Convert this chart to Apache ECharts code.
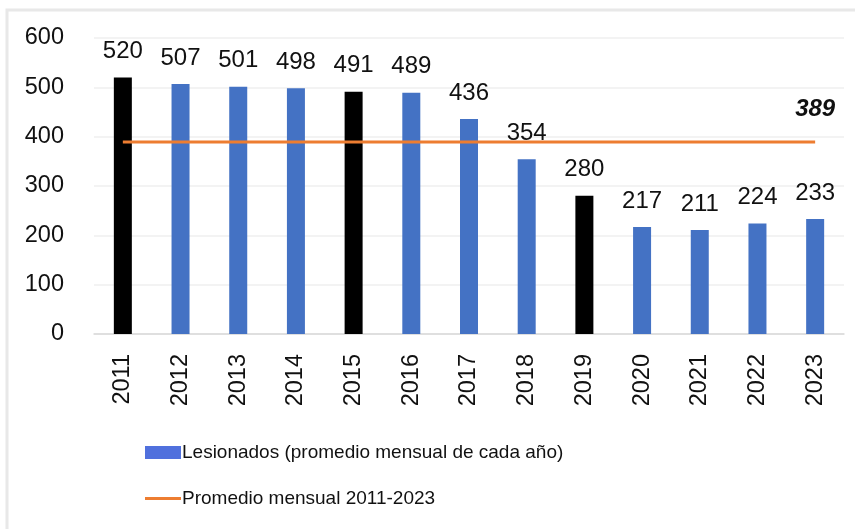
<!DOCTYPE html>
<html>
<head>
<meta charset="utf-8">
<script src="https://cdn.jsdelivr.net/npm/echarts@6/dist/echarts.min.js"></script>
<style>
html,body{margin:0;padding:0;background:#fff;}
#chart{width:855px;height:529px;}
</style>
</head>
<body>
<div id="chart"></div>
<script>
const years = ['2011','2012','2013','2014','2015','2016','2017','2018','2019','2020','2021','2022','2023'];
const lesionados = [520,507,501,498,491,489,436,354,280,217,211,224,233];
const promedio = 389;
const highlightYears = ['2011','2015','2019'];
const yTicks = [0,100,200,300,400,500,600];
const seriesNames = ['Lesionados (promedio mensual de cada año)','Promedio mensual 2011-2023'];

const FONT = 'Liberation Sans';
const chart = echarts.init(document.getElementById('chart'), null, {renderer:'canvas'});
const barData = lesionados.map((v,i)=>({
  value: v,
  itemStyle: {color: highlightYears.includes(years[i]) ? '#000000' : '#4472C4'}
}));
const lineData = years.map((y,i)=>({
  value: promedio,
  label: {show: i === years.length-1}
}));

chart.setOption({
  animation:false,
  backgroundColor:'#fff',
  textStyle:{fontFamily:FONT},
  graphic:[{
    type:'rect', silent:true,
    shape:{x:7,y:10,width:900,height:600},
    style:{fill:'none',stroke:'#e8e8e8',lineWidth:3}
  }],
  grid:{left:94,right:11,top:38,bottom:529-334},
  xAxis:{
    type:'category', data:years,
    axisTick:{show:false},
    axisLine:{lineStyle:{color:'#d9d9d9',width:1.5}},
    axisLabel:{rotate:90,margin:20,fontSize:23.5,color:'#111',fontFamily:FONT}
  },
  yAxis:{
    type:'value', min:yTicks[0], max:yTicks[yTicks.length-1], interval:100,
    axisLine:{show:false}, axisTick:{show:false},
    splitLine:{lineStyle:{color:'#efefef',width:1.5}},
    axisLabel:{margin:30,fontSize:23.5,color:'#111',fontFamily:FONT}
  },
  legend:{
    orient:'vertical', left:140, top:438,
    itemWidth:36, itemHeight:13, itemGap:27,
    textStyle:{fontSize:19,color:'#111',fontFamily:FONT,padding:[0,0,0,-4]},
    data:[
      {name:seriesNames[0],icon:'rect'},
      {name:seriesNames[1],icon:'path://M0,0 L36,0 L36,3 L0,3 Z'}
    ]
  },
  series:[{
    name:seriesNames[0], type:'bar', data:barData, barWidth:18,
    label:{show:true,position:'top',distance:14,fontSize:24,color:'#111',fontFamily:FONT}
  },{
    name:seriesNames[1], type:'line', data:lineData, symbol:'circle', symbolSize:0, showSymbol:true,
    lineStyle:{color:'#ED7D31',width:3}, itemStyle:{color:'#ED7D31'},
    label:{position:'top',distance:21,fontSize:24,fontWeight:'bold',fontStyle:'italic',color:'#111',fontFamily:FONT}
  }]
});
</script>
</body>
</html>
